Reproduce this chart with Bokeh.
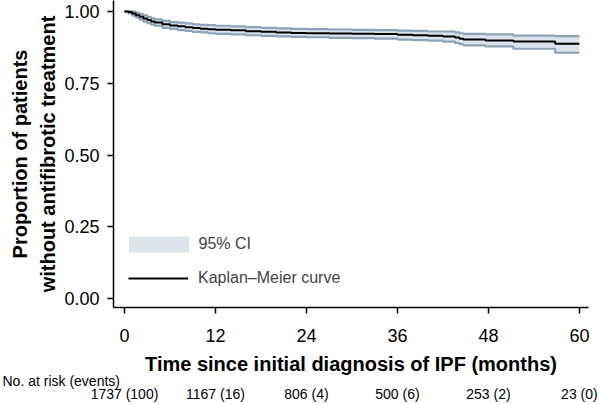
from bokeh.plotting import figure
from bokeh.models import (Range1d, FixedTicker, LinearAxis, Legend, LegendItem,
                          Title, ColumnDataSource)
from bokeh.embed import file_html
from bokeh.resources import INLINE

# ---- data ----
months = [0, 0.5, 1, 1.5, 2, 2.5, 3, 3.5, 4, 5, 6, 7, 8, 9, 10, 11, 12, 14, 16, 18, 20, 22, 24,
          27, 30, 33, 36, 38, 40, 42, 43.6, 44.2, 44.7, 47.6, 51.3, 56.8, 60]
surv = [1.000, 0.998, 0.993, 0.987, 0.981, 0.975, 0.970, 0.965, 0.961, 0.955, 0.951, 0.948,
        0.945, 0.942, 0.940, 0.938, 0.936, 0.934, 0.931, 0.929, 0.927, 0.925, 0.924, 0.923,
        0.922, 0.921, 0.919, 0.917, 0.915, 0.913, 0.909, 0.905, 0.902, 0.899, 0.895, 0.887, 0.887]
lower = [1.000, 0.993, 0.985, 0.978, 0.971, 0.964, 0.959, 0.954, 0.950, 0.943, 0.939, 0.935,
         0.932, 0.929, 0.927, 0.924, 0.922, 0.920, 0.917, 0.915, 0.913, 0.911, 0.910, 0.908,
         0.907, 0.905, 0.902, 0.900, 0.898, 0.895, 0.890, 0.886, 0.882, 0.878, 0.870, 0.856, 0.856]
upper = [1.000, 1.000, 0.999, 0.995, 0.991, 0.986, 0.981, 0.976, 0.972, 0.967, 0.963, 0.961,
         0.958, 0.955, 0.953, 0.952, 0.950, 0.948, 0.945, 0.943, 0.941, 0.939, 0.938, 0.937,
         0.936, 0.935, 0.933, 0.932, 0.930, 0.930, 0.927, 0.924, 0.922, 0.920, 0.916, 0.914, 0.914]

x_ticks = [0, 12, 24, 36, 48, 60]
y_ticks = [0.0, 0.25, 0.50, 0.75, 1.00]
y_tick_labels = ["0.00", "0.25", "0.50", "0.75", "1.00"]
at_risk = [1737, 1167, 806, 500, 253, 23]
events = [100, 16, 4, 6, 2, 0]

FONT = "Liberation Sans"
BAND_FILL = "#dde3ea"
BAND_EDGE = "#8ea2b7"

src = ColumnDataSource(dict(t=months, s=surv, lo=lower, hi=upper))

p = figure(width=602, height=404, output_backend="svg", toolbar_location=None,
           x_range=Range1d(-1.45, 61.2), y_range=Range1d(-0.031, 1.038),
           min_border_left=113, min_border_right=14, min_border_top=0, min_border_bottom=10)
p.outline_line_color = None
p.xgrid.visible = False
p.ygrid.visible = False
p.background_fill_color = "white"
p.border_fill_color = "white"

band = p.varea_step(x="t", y1="lo", y2="hi", step_mode="after", source=src,
                    fill_color=BAND_FILL)
p.step(x="t", y="lo", mode="after", source=src, line_color=BAND_EDGE, line_width=2.2)
p.step(x="t", y="hi", mode="after", source=src, line_color=BAND_EDGE, line_width=2.2)
km = p.step(x="t", y="s", mode="after", source=src, line_color="black", line_width=2)

# axes
for ax in (p.xaxis[0], p.yaxis[0]):
    ax.axis_line_color = "black"
    ax.axis_line_width = 1.5
    ax.major_tick_line_color = "black"
    ax.major_tick_line_width = 1.5
    ax.major_tick_in = 0
    ax.major_tick_out = 6
    ax.minor_tick_line_color = None
    ax.major_label_text_font = FONT
    ax.major_label_text_font_size = "18px"
    ax.major_label_text_color = "black"
    ax.axis_label_text_font = FONT
    ax.axis_label_text_font_style = "bold"
    ax.axis_label_text_font_size = "20px"
    ax.axis_label_text_color = "black"

p.xaxis[0].ticker = FixedTicker(ticks=x_ticks)
p.xaxis[0].major_label_standoff = 15
p.xaxis[0].axis_label = "Time since initial diagnosis of IPF (months)"
p.xaxis[0].axis_label_standoff = 8

p.yaxis[0].ticker = FixedTicker(ticks=y_ticks)
p.yaxis[0].major_label_overrides = {t: l for t, l in zip(y_ticks, y_tick_labels)}
p.yaxis[0].major_label_standoff = 8
p.yaxis[0].axis_label = "Proportion of patients\nwithout antifibrotic treatment"
p.yaxis[0].axis_label_standoff = 2
p.yaxis[0].axis_label_text_line_height = 1.3

# risk table header and row
p.add_layout(Title(text="No. at risk (events)", align="left", offset=-111, standoff=-13,
                   text_font=FONT, text_font_size="14px", text_font_style="normal",
                   text_color="black"), "below")
risk_axis = LinearAxis(ticker=FixedTicker(ticks=x_ticks),
                       major_label_overrides={t: f"{n} ({e})" for t, n, e in zip(x_ticks, at_risk, events)},
                       axis_line_color=None, major_tick_line_color=None, minor_tick_line_color=None,
                       major_tick_out=0, major_tick_in=0, major_label_standoff=3,
                       major_label_text_font=FONT, major_label_text_font_size="14px",
                       major_label_text_color="black")
p.add_layout(risk_axis, "below")

legend_ci = Legend(items=[LegendItem(label="95% CI", renderers=[band])],
                   location=(7.5, 53), glyph_width=75, glyph_height=20, label_height=20,
                   padding=0, margin=0, label_standoff=3,
                   label_text_font=FONT, label_text_font_size="16px",
                   border_line_color=None, background_fill_alpha=0)
legend_km = Legend(items=[LegendItem(label="Kaplan\u2013Meier curve", renderers=[km])],
                   location=(15, 19), glyph_width=60, glyph_height=20, label_height=20,
                   padding=0, margin=0, label_standoff=10,
                   label_text_font=FONT, label_text_font_size="16px",
                   border_line_color=None, background_fill_alpha=0)
p.add_layout(legend_ci)
p.add_layout(legend_km)

open("out.html", "w").write(file_html(p, INLINE))
